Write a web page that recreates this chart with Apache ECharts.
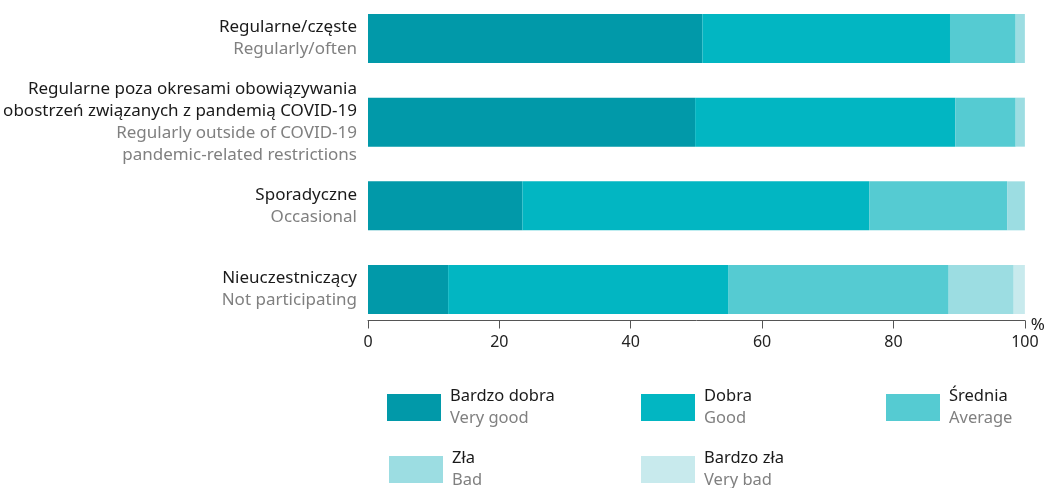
<!DOCTYPE html>
<html><head><meta charset="utf-8">
<script src="https://cdn.jsdelivr.net/npm/echarts@6/dist/echarts.min.js"></script>
<style>html,body{margin:0;padding:0;background:#fff}#c{width:1048px;height:488px}</style>
</head><body><div id="c"></div>
<script>
const categoriesPl = ['Regularne/częste', 'Regularne poza okresami obowiązywania\nobostrzeń związanych z pandemią COVID-19', 'Sporadyczne', 'Nieuczestniczący'];
const categoriesEn = ['Regularly/often', 'Regularly outside of COVID-19\npandemic-related restrictions', 'Occasional', 'Not participating'];
const seriesPl = ['Bardzo dobra', 'Dobra', 'Średnia', 'Zła', 'Bardzo zła'];
const seriesEn = ['Very good', 'Good', 'Average', 'Bad', 'Very bad'];
const veryGood = [50.9, 49.8, 23.5, 12.2];
const good = [37.7, 39.6, 52.8, 42.7];
const average = [10.0, 9.2, 21.0, 33.5];
const bad = [1.4, 1.4, 2.7, 9.9];
const veryBad = [0, 0, 0, 1.7];
const xTicks = [0, 20, 40, 60, 80, 100];

const values = [veryGood, good, average, bad, veryBad];
const colors = ['#0199a9', '#02b6c2', '#55cbd2', '#9cdde2', '#c8eaed'];
const FONT = 'Noto Sans';

const chart = echarts.init(document.getElementById('c'), null, {renderer: 'canvas'});

function catLabel(v, i) {
  const idx = categoriesPl.indexOf(v);
  const pl = categoriesPl[idx].split('\n').map(s => '{pl|' + s + '}');
  const en = categoriesEn[idx].split('\n').map(s => '{en|' + s + '}');
  return pl.concat(en).join('\n');
}

const legendPos = [
  {left: 387, top: 388}, {left: 641, top: 388}, {left: 886, top: 388},
  {left: 389, top: 450}, {left: 641, top: 450}
];

const option = {
  animation: false,
  textStyle: {fontFamily: FONT},
  grid: {left: 368, right: 22, top: 38.5, height: 251, containLabel: false},
  xAxis: {
    type: 'value', min: 0, max: 100, interval: 20, offset: 31,
    name: '{p|%}', nameLocation: 'end', nameGap: 6,
    nameTextStyle: {fontSize: 17, color: '#222', fontFamily: FONT,
      rich: {p: {fontSize: 17, color: '#222', fontFamily: FONT, padding: [10, 0, 0, 0]}}},
    splitLine: {show: false},
    axisLine: {show: true, lineStyle: {color: '#555', width: 1}},
    axisTick: {show: true, length: 8, lineStyle: {color: '#555'}},
    axisLabel: {fontSize: 16, color: '#222', margin: 14, fontFamily: FONT,
      formatter: v => xTicks.includes(v) ? String(v) : ''}
  },
  yAxis: {
    type: 'category', data: categoriesPl, inverse: true, boundaryGap: false,
    axisLine: {show: false}, axisTick: {show: false}, splitLine: {show: false},
    axisLabel: {
      margin: 11, formatter: catLabel,
      rich: {
        pl: {fontSize: 17, color: '#1a1a1a', lineHeight: 21.7, fontFamily: FONT},
        en: {fontSize: 17, color: '#808080', lineHeight: 21.7, fontFamily: FONT}
      }
    }
  },
  legend: seriesPl.map((n, i) => ({
    data: [n], left: legendPos[i].left, top: legendPos[i].top,
    padding: 0,
    itemWidth: 54, itemHeight: 27, itemGap: 0, icon: 'rect',
    selectedMode: false,
    formatter: name => '{pl|' + name + '}\n{en|' + seriesEn[seriesPl.indexOf(name)] + '}',
    textStyle: {
      padding: [0, 0, 0, 4],
      rich: {
        pl: {fontSize: 16.5, color: '#1a1a1a', lineHeight: 22, fontFamily: FONT},
        en: {fontSize: 16.5, color: '#808080', lineHeight: 22, fontFamily: FONT}
      }
    }
  })),
  series: seriesPl.map((n, i) => ({
    name: n, type: 'bar', stack: 'all', barWidth: 49, clip: false,
    itemStyle: {color: colors[i]},
    data: values[i]
  }))
};
chart.setOption(option);
</script></body></html>
